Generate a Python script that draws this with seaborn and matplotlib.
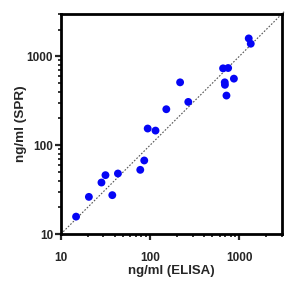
import numpy as np
import pandas as pd
import matplotlib
matplotlib.use("Agg")
from matplotlib import pyplot as plt
from matplotlib.ticker import LogLocator, NullFormatter, FixedLocator, FixedFormatter
import seaborn as sns

# values
elisa = [14.8, 20.6, 28.5, 31.6, 37.7, 43.6, 77.6, 86, 94, 115, 152, 217, 268,
         658, 750, 687, 690, 718, 870, 1276, 1344]
spr = [15.7, 26.2, 38, 46, 27.4, 48, 52.8, 67.3, 154, 146, 254, 510, 307,
       733, 739, 510, 478, 362, 561, 1592, 1387]
major_ticks = [10, 100, 1000]
tick_labels = ["10", "100", "1000"]
lims = [10, 3000]
identity = [10, 3200]

df = pd.DataFrame({"ELISA": elisa, "SPR": spr})

sns.set_style("ticks")
plt.rcParams["font.family"] = ["Liberation Sans", "DejaVu Sans"]
plt.rcParams["font.weight"] = "bold"

fig = plt.figure(figsize=(2.97, 2.97), dpi=100)
ax = fig.add_axes([0.205, 0.212, 0.744, 0.741])

ax.plot(identity, identity, ls=(0, (1.5, 1.5)), color="#555555", lw=0.8,
        zorder=1, clip_on=False)
sns.scatterplot(data=df, x="ELISA", y="SPR", ax=ax, color="#0505f5",
                edgecolor="none", s=32, zorder=3, legend=False)

ax.set_xscale("log")
ax.set_yscale("log")
ax.set_xlim(lims)
ax.set_ylim(lims)
for axis in (ax.xaxis, ax.yaxis):
    axis.set_major_locator(FixedLocator(major_ticks))
    axis.set_major_formatter(FixedFormatter(tick_labels))
    axis.set_minor_locator(LogLocator(base=10, subs=np.arange(2, 10)))
    axis.set_minor_formatter(NullFormatter())

for sp in ax.spines.values():
    sp.set_linewidth(2)
    sp.set_color("black")
ax.tick_params(which="major", length=4, width=1.6, labelsize=8.5)
ax.tick_params(which="minor", length=2, width=1.3)
ax.tick_params(axis="x", which="major", pad=9)
ax.tick_params(axis="y", which="major", pad=1.5)
ax.tick_params(top=False, right=False, which="both")

ax.set_xlabel("ng/ml (ELISA)", fontsize=9.5, fontweight="bold", labelpad=1)
ax.set_ylabel("ng/ml (SPR)", fontsize=9.7, fontweight="bold", labelpad=0)

plt.savefig("out.png", dpi=100)
